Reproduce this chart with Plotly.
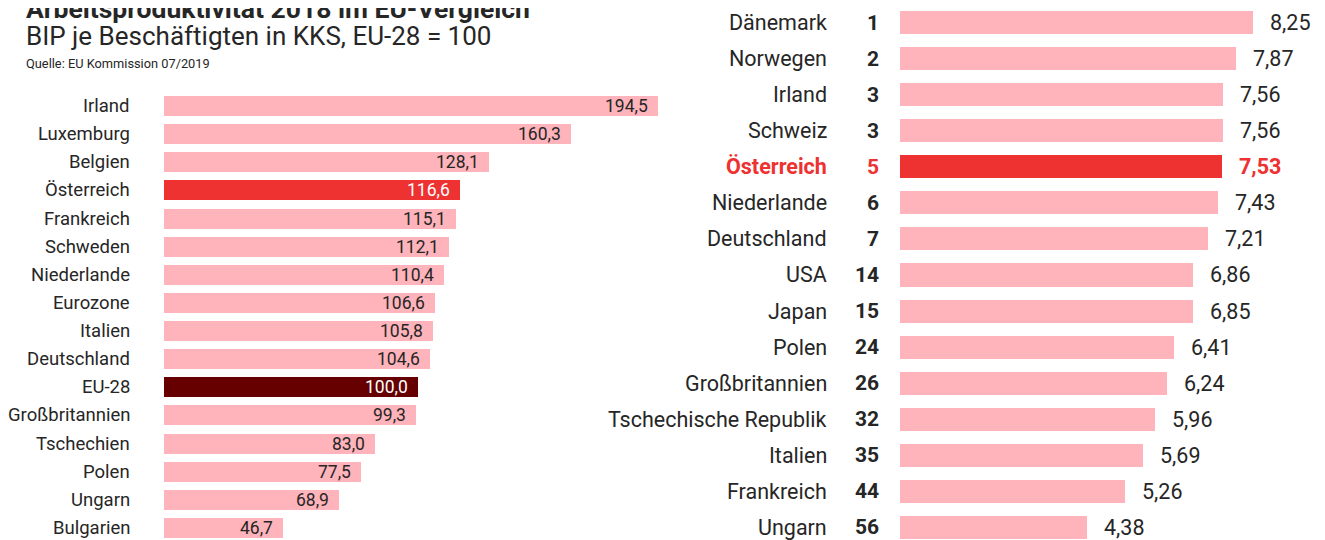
import plotly.graph_objects as go

W, H = 1325, 540
OFF = 8  # page body margin; all positions below given in page pixels

# ---- data: left chart ----
eu_countries = ["Irland", "Luxemburg", "Belgien", "Österreich", "Frankreich", "Schweden",
                "Niederlande", "Eurozone", "Italien", "Deutschland", "EU-28", "Großbritannien",
                "Tschechien", "Polen", "Ungarn", "Bulgarien"]
eu_values = [194.5, 160.3, 128.1, 116.6, 115.1, 112.1, 110.4, 106.6, 105.8, 104.6, 100.0,
             99.3, 83.0, 77.5, 68.9, 46.7]

# ---- data: right chart ----
world_countries = ["Dänemark", "Norwegen", "Irland", "Schweiz", "Österreich", "Niederlande",
                   "Deutschland", "USA", "Japan", "Polen", "Großbritannien",
                   "Tschechische Republik", "Italien", "Frankreich", "Ungarn"]
world_ranks = [1, 2, 3, 3, 5, 6, 7, 14, 15, 24, 26, 32, 35, 44, 56]
world_values = [8.25, 7.87, 7.56, 7.56, 7.53, 7.43, 7.21, 6.86, 6.85, 6.41, 6.24, 5.96,
                5.69, 5.26, 4.38]

PINK = "#ffb3ba"
RED = "#ee3131"
DARK = "#660000"
TXT = "#262626"
FONT = "Roboto"


def px(x):
    return (x - OFF) / W


def py(y):
    return 1 - (y - OFF) / H


def fmt(v, d):
    return f"{v:.{d}f}".replace(".", ",")


left_colors = [RED if c == "Österreich" else DARK if c == "EU-28" else PINK for c in eu_countries]
right_colors = [RED if c == "Österreich" else PINK for c in world_countries]

fig = go.Figure()
fig.add_trace(go.Bar(x=eu_values, y=list(range(len(eu_values))), orientation="h",
                     marker=dict(color=left_colors, line=dict(width=0)), width=0.71,
                     xaxis="x", yaxis="y", hoverinfo="skip"))
fig.add_trace(go.Bar(x=world_values, y=list(range(len(world_values))), orientation="h",
                     marker=dict(color=right_colors, line=dict(width=0)), width=0.64,
                     xaxis="x2", yaxis="y2", hoverinfo="skip"))

ann = []
# left labels
for i, (c, v) in enumerate(zip(eu_countries, eu_values)):
    ann.append(dict(x=px(132), xref="paper", y=i, yref="y", text=c, xanchor="right",
                    yanchor="middle", showarrow=False, font=dict(size=18.5, color=TXT, family=FONT)))
    col = "white" if c in ("Österreich", "EU-28") else TXT
    ann.append(dict(x=v, xref="x", y=i, yref="y", text=fmt(v, 1), xanchor="right", xshift=-8,
                    yanchor="middle", showarrow=False, font=dict(size=17.5, color=col, family=FONT)))
# right labels
for i, (c, r, v) in enumerate(zip(world_countries, world_ranks, world_values)):
    hl = c == "Österreich"
    col = RED if hl else TXT
    name = f"<b>{c}</b>" if hl else c
    val = f"<b>{fmt(v, 2)}</b>" if hl else fmt(v, 2)
    ann.append(dict(x=px(829), xref="paper", y=i, yref="y2", text=name, xanchor="right",
                    yanchor="middle", showarrow=False, font=dict(size=21.5, color=col, family=FONT)))
    ann.append(dict(x=px(881), xref="paper", y=i, yref="y2", text=f"<b>{r}</b>", xanchor="right",
                    yanchor="middle", showarrow=False, font=dict(size=21, color=col, family=FONT)))
    ann.append(dict(x=v, xref="x2", y=i, yref="y2", text=val, xanchor="left", xshift=15,
                    yanchor="middle", showarrow=False, font=dict(size=21.5, color=col, family=FONT)))

# titles
ann.append(dict(x=px(24), xref="paper", y=py(8.5), yref="paper", xanchor="left", yanchor="middle",
                text="<b>Arbeitsproduktivität 2018 im EU-Vergleich</b>", showarrow=False,
                font=dict(size=26.5, color=TXT, family=FONT)))
ann.append(dict(x=px(24), xref="paper", y=py(35.5), yref="paper", xanchor="left", yanchor="middle",
                text="BIP je Beschäftigten in KKS, EU-28 = 100", showarrow=False,
                font=dict(size=26, color=TXT, family=FONT)))
ann.append(dict(x=px(24), xref="paper", y=py(63), yref="paper", xanchor="left", yanchor="middle",
                text="Quelle: EU Kommission 07/2019", showarrow=False,
                font=dict(size=12.8, color=TXT, family=FONT)))

L0, L1 = 164, 680
R0, R1 = 900, 1333
LROW0, LSTEP = 106, 28.13
RROW0, RSTEP = 22.5, 36.07
fig.update_layout(
    width=W, height=H, margin=dict(l=0, r=0, t=0, b=0),
    paper_bgcolor="white", plot_bgcolor="white", showlegend=False, bargap=0,
    annotations=ann,
    xaxis=dict(domain=[px(L0), px(L1)], range=[0, (L1 - L0) / 2.54], visible=False, fixedrange=True),
    yaxis=dict(domain=[0, 1], range=[(H + OFF - LROW0) / LSTEP, (OFF - LROW0) / LSTEP],
               visible=False, fixedrange=True),
    xaxis2=dict(domain=[px(R0), px(R1)], range=[0, (R1 - R0) / 42.75], visible=False,
                anchor="y2", fixedrange=True),
    yaxis2=dict(domain=[0, 1], range=[(H + OFF - RROW0) / RSTEP, (OFF - RROW0) / RSTEP],
                visible=False, anchor="x2", fixedrange=True),
)

fig.write_html("out.html", config={"displayModeBar": False})
